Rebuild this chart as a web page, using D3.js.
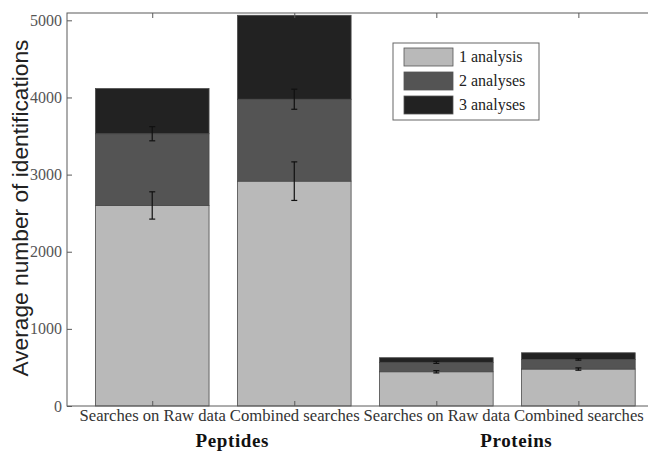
<!DOCTYPE html>
<html>
<head>
<meta charset="utf-8">
<script src="https://cdn.jsdelivr.net/npm/d3@7"></script>
<style>
  html, body { margin: 0; padding: 0; background: #fff; }
  svg { display: block; }
</style>
</head>
<body>
<svg id="chart" width="648" height="461"></svg>
<script>
// Category labels under each bar, and the group each pair belongs to
const categories = ["Searches on Raw data", "Combined searches", "Searches on Raw data", "Combined searches"];
const groups = ["Peptides", "Proteins"];
const seriesNames = ["1 analysis", "2 analyses", "3 analyses"];

// Stacked layer values per bar
const oneAnalysis = [2600, 2915, 444, 479];
const twoAnalyses = [930, 1062, 122, 125];
const threeAnalyses = [585, 1088, 60, 86];

// Error half-widths at the top of layer 1 and layer 2
const errOne = [177, 250, 15, 15];
const errTwo = [92, 130, 14, 10];

const yTicks = [0, 1000, 2000, 3000, 4000, 5000];
const colors = ["#b9b9b9", "#545454", "#222222"];

const svg = d3.select("#chart");
const serif = "'Liberation Serif', 'Times New Roman', serif";

// Bars sit at x = 1..4 with the axis running from 0.4 to 4.6
const x = d3.scaleLinear().domain([0.4, 4.6]).range([67, 663.6]);
const y = d3.scaleLinear().domain([0, 5095]).range([406, 13]);
const barW = 0.8;

const layers = [oneAnalysis, twoAnalyses, threeAnalyses];
const stacks = categories.map((c, i) => {
  let base = 0;
  return layers.map((arr, k) => {
    const seg = { i, k, y0: base, y1: base + arr[i] };
    base += arr[i];
    return seg;
  });
}).flat();

// Bars
svg.append("g").selectAll("rect").data(stacks).join("rect")
  .attr("x", d => x(d.i + 1 - barW / 2))
  .attr("width", d => x(d.i + 1 + barW / 2) - x(d.i + 1 - barW / 2))
  .attr("y", d => y(d.y1))
  .attr("height", d => y(d.y0) - y(d.y1))
  .attr("fill", d => colors[d.k])
  .attr("stroke", "#4a4a4a")
  .attr("stroke-width", 0.8);

// Error bars
const errs = [];
categories.forEach((c, i) => {
  errs.push({ i, c: oneAnalysis[i], e: errOne[i] });
  errs.push({ i, c: oneAnalysis[i] + twoAnalyses[i], e: errTwo[i] });
});
const eg = svg.append("g").attr("stroke", "#111").attr("stroke-width", 1.2);
errs.forEach(d => {
  const cx = x(d.i + 1);
  eg.append("line").attr("x1", cx).attr("x2", cx).attr("y1", y(d.c - d.e)).attr("y2", y(d.c + d.e));
  eg.append("line").attr("x1", cx - 3).attr("x2", cx + 3).attr("y1", y(d.c - d.e)).attr("y2", y(d.c - d.e));
  eg.append("line").attr("x1", cx - 3).attr("x2", cx + 3).attr("y1", y(d.c + d.e)).attr("y2", y(d.c + d.e));
});

// Axes box
const axisColor = "#5a5a5a";
const [x0, x1] = x.range();
const [yb, yt] = y.range();
svg.append("rect").attr("x", x0).attr("y", yt).attr("width", x1 - x0).attr("height", yb - yt)
  .attr("fill", "none").attr("stroke", axisColor).attr("stroke-width", 1);

// Left axis with inward ticks
const yAxis = d3.axisLeft(y).tickValues(yTicks).tickSize(-5).tickPadding(5).tickFormat(d3.format("d"));
const ga = svg.append("g").attr("transform", `translate(${x0},0)`).call(yAxis);
ga.select(".domain").remove();
ga.selectAll(".tick line").attr("stroke", axisColor);
ga.selectAll(".tick text").attr("font-family", serif).attr("font-size", 16).attr("fill", "#555");

// Right axis ticks
const gr = svg.append("g").attr("transform", `translate(${x1},0)`).call(d3.axisRight(y).tickValues(yTicks).tickSize(-5).tickFormat(""));
gr.select(".domain").remove();
gr.selectAll(".tick line").attr("stroke", axisColor);

// Bottom axis with category labels, slightly widened
const xAxis = d3.axisBottom(x).tickValues([1, 2, 3, 4]).tickSize(-5).tickPadding(4)
  .tickFormat((d, i) => categories[i]);
const gb = svg.append("g").attr("transform", `translate(0,${yb})`).call(xAxis);
gb.select(".domain").remove();
gb.selectAll(".tick line").attr("stroke", axisColor);
gb.selectAll(".tick text").attr("font-family", serif).attr("font-size", 16).attr("fill", "#333")
  .each(function () {
    const w = this.getComputedTextLength();
    d3.select(this).attr("textLength", w * 1.04).attr("lengthAdjust", "spacingAndGlyphs");
  });

// Top axis ticks
const gt = svg.append("g").attr("transform", `translate(0,${yt})`).call(d3.axisTop(x).tickValues([1, 2, 3, 4]).tickSize(-5).tickFormat(""));
gt.select(".domain").remove();
gt.selectAll(".tick line").attr("stroke", axisColor);

// Group labels under each pair of bars
groups.forEach((g, j) => {
  svg.append("text")
    .attr("x", x(2 * j + 1.5) + 9)
    .attr("y", 447)
    .attr("text-anchor", "middle")
    .attr("font-family", serif)
    .attr("font-weight", "bold")
    .attr("font-size", 19)
    .attr("letter-spacing", 0.6)
    .attr("fill", "#111")
    .text(g);
});

// Y axis title
svg.append("text")
  .attr("transform", "translate(28,208) rotate(-90)")
  .attr("text-anchor", "middle")
  .attr("font-family", "'Liberation Sans', Arial, sans-serif")
  .attr("font-size", 21.5)
  .attr("textLength", 337)
  .attr("lengthAdjust", "spacingAndGlyphs")
  .attr("fill", "#222")
  .text("Average number of identifications");

// Legend
const lg = svg.append("g").attr("transform", "translate(393,43)");
lg.append("rect").attr("width", 146).attr("height", 77).attr("fill", "#fff")
  .attr("stroke", "#666").attr("stroke-width", 1);
seriesNames.forEach((s, k) => {
  const row = lg.append("g").attr("transform", `translate(0,${14 + k * 24})`);
  row.append("rect").attr("x", 11).attr("y", -9).attr("width", 49).attr("height", 18)
    .attr("fill", colors[k]).attr("stroke", "#555").attr("stroke-width", 0.8);
  row.append("text").attr("x", 66).attr("y", 5)
    .attr("font-family", serif).attr("font-size", 16).attr("fill", "#222").text(s);
});
</script>
</body>
</html>
